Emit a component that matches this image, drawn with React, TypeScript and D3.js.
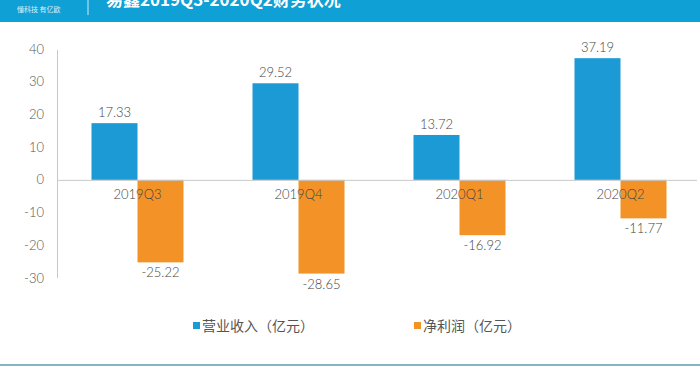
import React from 'react'
import * as d3 from 'd3'

const categories = ['2019Q3', '2019Q4', '2020Q1', '2020Q2']
const revenue = [17.33, 29.52, 13.72, 37.19]
const profit = [-25.22, -28.65, -16.92, -11.77]
const yTicks = [40, 30, 20, 10, 0, -10, -20, -30]
const seriesNames = ['营业收入（亿元）', '净利润（亿元）']

const W = 700
const H = 370
const BLUE = '#1b9ad6'
const ORANGE = '#f39327'
const NUM_FONT = 'Lato, "Open Sans", sans-serif'
const CJK_FONT = '"Noto Sans CJK SC", sans-serif'

export default function App() {
  const x = d3.scaleBand().domain(categories).range([57, 701]).padding(0)
  const y = d3.scaleLinear().domain([-30, 40]).range([278, 49])
  const barW = 46
  const y0 = y(0)

  return (
    <div style={{ position: 'fixed', left: 0, top: 0 }}>
      <svg width={W} height={H} style={{ display: 'block', background: '#fff' }}>
        {/* header bar, title is cut by the top edge like in the source image */}
        <rect x={0} y={0} width={W} height={22} fill="#0fa0d6" />
        <line x1={88} x2={88} y1={0} y2={15} stroke="#cfeaf6" strokeWidth={1} />
        <text x={17} y={12} fontSize={7} fill="#d9f0fa" fontFamily={CJK_FONT}>懂科技 有亿欧</text>
        <text x={106} y={6} fontSize={17} fontWeight="bold" fill="#ffffff" fontFamily={CJK_FONT}>
          易鑫2019Q3-2020Q2财务状况
        </text>

        {/* y axis */}
        <line x1={57.5} x2={57.5} y1={y(40) + 1} y2={y(-30)} stroke="#c8c8c8" strokeWidth={1} />
        {yTicks.map(t => (
          <text key={t} x={44} y={y(t)} dy="0.35em" textAnchor="end" fontSize={13}
            fontWeight={300} fill="#555" fontFamily={NUM_FONT}>{t}</text>
        ))}

        {/* bars */}
        {categories.map((c, i) => {
          const cx = (x(c) as number) + x.bandwidth() / 2
          const r = revenue[i]
          const p = profit[i]
          return (
            <g key={c}>
              <rect x={cx - barW} y={y(r)} width={barW} height={y0 - y(r)} fill={BLUE} />
              <rect x={cx} y={y0} width={barW} height={y(p) - y0} fill={ORANGE} />
            </g>
          )
        })}

        {/* zero line */}
        <line x1={57} x2={697} y1={y0 + 0.5} y2={y0 + 0.5} stroke="#c8c8c8" strokeWidth={1} />

        {/* labels */}
        {categories.map((c, i) => {
          const cx = (x(c) as number) + x.bandwidth() / 2
          return (
            <g key={c + 'l'} fontFamily={NUM_FONT} fontSize={13} fontWeight={300} fill="#444">
              <text x={cx - barW / 2} y={y(revenue[i]) - 6} textAnchor="middle">{revenue[i].toFixed(2)}</text>
              <text x={cx + barW / 2} y={y(profit[i]) + 15} textAnchor="middle">{profit[i].toFixed(2)}</text>
              <text x={cx} y={y0 + 19} textAnchor="middle">{c}</text>
            </g>
          )
        })}

        {/* legend */}
        <rect x={193} y={322} width={7} height={7} fill={BLUE} />
        <text x={202} y={331} fontSize={14} fill="#555" fontFamily={CJK_FONT}>{seriesNames[0]}</text>
        <rect x={414} y={322} width={7} height={7} fill={ORANGE} />
        <text x={423} y={331} fontSize={14} fill="#555" fontFamily={CJK_FONT}>{seriesNames[1]}</text>

        {/* bottom rule */}
        <rect x={0} y={364} width={W} height={2} fill="#84b6c2" />
      </svg>
    </div>
  )
}
